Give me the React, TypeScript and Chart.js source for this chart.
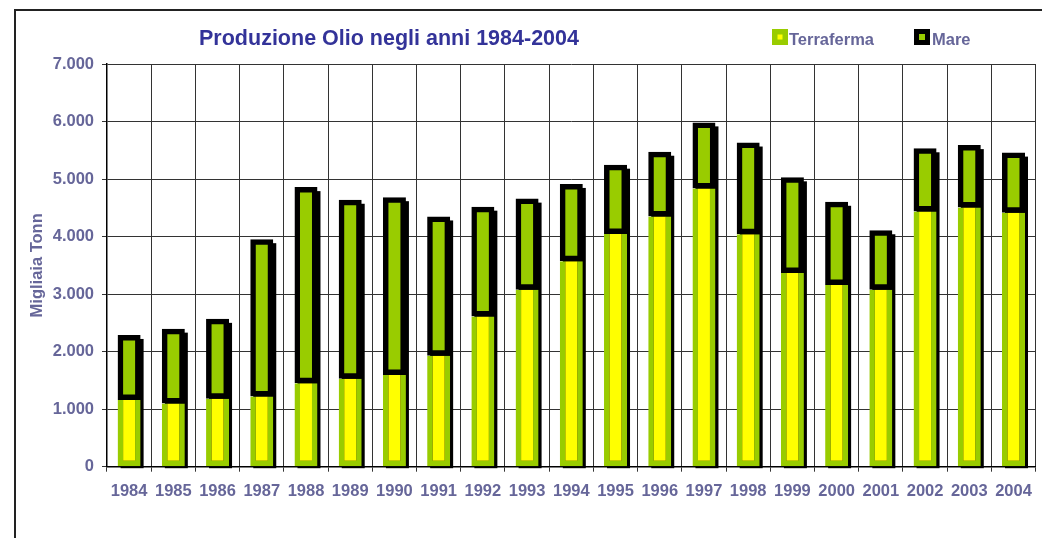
import React, { useEffect, useRef } from "react";
import { Chart, registerables } from "chart.js";

Chart.register(...registerables);

const years = [
  "1984", "1985", "1986", "1987", "1988", "1989", "1990", "1991", "1992", "1993", "1994",
  "1995", "1996", "1997", "1998", "1999", "2000", "2001", "2002", "2003", "2004",
];
const terraferma = [
  1160, 1100, 1180, 1220, 1450, 1530, 1595, 1930, 2610, 3075, 3570,
  4045, 4350, 4835, 4040, 3365, 3160, 3075, 4435, 4505, 4415,
];
const mare = [
  1130, 1300, 1390, 2735, 3410, 3110, 3090, 2420, 1910, 1585, 1345,
  1205, 1125, 1150, 1595, 1665, 1445, 1035, 1100, 1085, 1045,
];
const chartTitle = "Produzione Olio negli anni 1984-2004";
const yAxisTitle = "Migliaia Tonn";
const seriesNames = ["Terraferma", "Mare"];

const FONT = '"Liberation Sans", Arial, sans-serif';
const TEXT_COLOR = "#666699";
const TITLE_COLOR = "#333399";
const YELLOW = "#ffff00";
const GREEN = "#99cc00";

const fmt = (v: number) => String(v).replace(/\B(?=(\d{3})+(?!\d))/g, ".");

const decorPlugin = {
  id: "decor",
  beforeDraw(chart: any) {
    const ctx = chart.ctx;
    ctx.save();
    ctx.fillStyle = "#ffffff";
    ctx.fillRect(0, 0, chart.width, chart.height);
    ctx.strokeStyle = "#222";
    ctx.lineWidth = 2;
    ctx.strokeRect(15, 10, 3000, 3000);
    ctx.restore();
  },
  beforeDatasetsDraw(chart: any) {
    const ctx = chart.ctx;
    const m0 = chart.getDatasetMeta(0);
    const m1 = chart.getDatasetMeta(1);
    ctx.save();
    ctx.fillStyle = "#000";
    m1.data.forEach((el: any, i: number) => {
      const p = el.getProps(["x", "y", "width"], true);
      const bottom = m0.data[i].getProps(["base"], true).base;
      const dx = 3, dy = 4;
      ctx.fillRect(p.x - p.width / 2 + dx, p.y + dy, p.width, bottom - p.y - dy + 2);
    });
    ctx.restore();
  },
  afterDraw(chart: any) {
    const ctx = chart.ctx;
    ctx.save();
    ctx.textBaseline = "alphabetic";
    ctx.font = `bold 21.5px ${FONT}`;
    ctx.fillStyle = TITLE_COLOR;
    ctx.textAlign = "center";
    ctx.fillText(chartTitle, 389, 45);

    // legend
    ctx.textAlign = "left";
    ctx.font = `bold 16.5px ${FONT}`;
    // Terraferma
    ctx.fillStyle = GREEN;
    ctx.fillRect(772, 29, 16, 16);
    ctx.fillStyle = YELLOW;
    ctx.fillRect(777.5, 34.5, 5, 5);
    ctx.fillStyle = TEXT_COLOR;
    ctx.fillText(seriesNames[0], 789, 45);
    // Mare
    ctx.fillStyle = "#000";
    ctx.fillRect(914, 29, 16, 16);
    ctx.fillStyle = GREEN;
    ctx.fillRect(919, 34, 6, 6);
    ctx.fillStyle = TEXT_COLOR;
    ctx.fillText(seriesNames[1], 932, 45);
    ctx.restore();
  },
};

export default function App() {
  const ref = useRef<HTMLCanvasElement>(null);

  useEffect(() => {
    if (!ref.current) return;
    const chart = new Chart(ref.current, {
      type: "bar",
      data: {
        labels: years,
        datasets: [
          {
            label: seriesNames[0],
            data: terraferma,
            backgroundColor: YELLOW,
            borderColor: GREEN,
            borderWidth: { top: 0, left: 5.5, right: 5.5, bottom: 5.5 } as any,
            borderSkipped: false,
            stack: "s",
          },
          {
            label: seriesNames[1],
            data: mare,
            backgroundColor: GREEN,
            borderColor: "#000",
            borderWidth: 5.5,
            borderSkipped: false,
            stack: "s",
          },
        ],
      },
      plugins: [decorPlugin],
      options: {
        responsive: false,
        animation: false,
        devicePixelRatio: 1,
        layout: { padding: { top: 64, right: 6, bottom: 0, left: 0 } },
        datasets: {
          bar: { barPercentage: 0.52, categoryPercentage: 1 },
        },
        plugins: {
          legend: { display: false },
          title: { display: false },
          tooltip: { enabled: false },
        },
        scales: {
          x: {
            stacked: true,
            grid: {
              display: true,
              offset: true,
              color: "#333",
              lineWidth: 1,
              tickLength: 5,
              tickColor: "#333",
            },
            border: { display: true, color: "#000", width: 1.5 },
            ticks: {
              color: TEXT_COLOR,
              font: { family: FONT, size: 16.5, weight: "bold" },
              padding: 10,
              maxRotation: 0,
              autoSkip: false,
            },
            afterFit(scale: any) {
              scale.height = 538 - 466.7;
            },
          },
          y: {
            stacked: true,
            min: 0,
            max: 7000,
            grid: {
              color: "#333",
              lineWidth: 1,
              tickLength: 5,
              tickColor: "#333",
            },
            border: { display: true, color: "#000", width: 1.5 },
            ticks: {
              stepSize: 1000,
              color: TEXT_COLOR,
              font: { family: FONT, size: 16.5, weight: "bold" },
              padding: 8,
              callback: (v: any) => fmt(Number(v)),
            },
            title: {
              display: true,
              text: yAxisTitle,
              color: TEXT_COLOR,
              font: { family: FONT, size: 16.5, weight: "bold" },
              padding: { top: 28, bottom: 0 },
            },
            afterFit(scale: any) {
              scale.width = 107;
            },
          },
        },
      },
    });
    return () => chart.destroy();
  }, []);

  return (
    <div style={{ position: "absolute", left: 0, top: 0, width: 1042, height: 538, overflow: "hidden" }}>
      <canvas ref={ref} width={1042} height={538} style={{ display: "block", width: 1042, height: 538 }} />
    </div>
  );
}
